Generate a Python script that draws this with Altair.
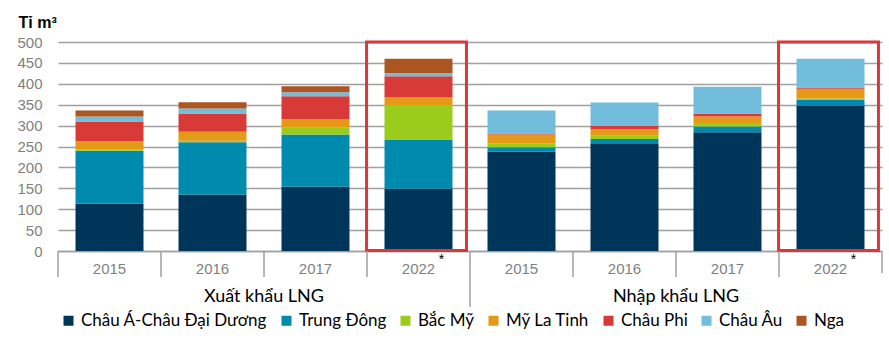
import altair as alt
import pandas as pd

groups = ["Xuất khẩu LNG", "Nhập khẩu LNG"]
years = ["2015", "2016", "2017", "2022"]
regions = ["Châu Á-Châu Đại Dương", "Trung Đông", "Bắc Mỹ", "Mỹ La Tinh",
           "Châu Phi", "Châu Âu", "Nga"]
colors = ["#00355A", "#008AAE", "#9BCB1B", "#E59A17", "#D73A37", "#71BDDB", "#AB5520"]

# values per region, over years 2015, 2016, 2017, 2022
export_vals = {
    "Châu Á-Châu Đại Dương": [113, 135, 154, 149],
    "Trung Đông": [127, 125, 125, 118],
    "Bắc Mỹ": [2, 4, 17, 82],
    "Mỹ La Tinh": [21, 21, 20, 18],
    "Châu Phi": [47, 44, 54, 51],
    "Châu Âu": [12, 12, 10, 7],
    "Nga": [14, 15, 14, 35],
}
import_vals = {
    "Châu Á-Châu Đại Dương": [238, 256, 284, 347],
    "Trung Đông": [10, 12, 14, 14],
    "Bắc Mỹ": [10, 8, 8, 4],
    "Mỹ La Tinh": [21, 16, 16, 23],
    "Châu Phi": [2, 8, 7, 3],
    "Châu Âu": [55, 55, 64, 69],
    "Nga": [0, 0, 0, 0],
}

cats = [f"{g}|{y}" for g in groups for y in years]

rows = []
for g, vals in zip(groups, [export_vals, import_vals]):
    for i, y in enumerate(years):
        for k, r in enumerate(regions):
            rows.append({"cat": f"{g}|{y}", "region": r, "value": vals[r][i], "ord": k})
df = pd.DataFrame(rows)

W, H = 824, 209
FONT = "Liberation Sans"
LFONT = "Lato"
GRAY = "#A0A0A0"

xscale = alt.Scale(domain=cats, paddingInner=0, paddingOuter=0)
yscale = alt.Scale(domain=[0, 500], nice=False)

xaxis = alt.Axis(title=None, labelExpr="split(datum.value,'|')[1]",
                 ticks=False, labelAngle=0, labelPadding=10,
                 labelFont=FONT, labelFontSize=15, labelColor="#7F7F7F",
                 domainColor=GRAY, domainWidth=1.5, grid=False)
yaxis = alt.Axis(values=list(range(0, 501, 50)), title="Tỉ m³",
                 titleAngle=0, titleX=-40, titleY=-15, titleAlign="left",
                 titleBaseline="alphabetic", titleFont=FONT,
                 titleFontSize=16, titleFontWeight="bold", titleColor="black",
                 labelFont=FONT, labelFontSize=15, labelColor="#7F7F7F",
                 labelOverlap=False, labelPadding=16, ticks=False, domain=False,
                 grid=True, gridColor=GRAY, gridWidth=1.5)

bars = alt.Chart(df).mark_bar(width=alt.RelativeBandSize(0.66)).encode(
    x=alt.X("cat:N", scale=xscale, sort=cats, axis=xaxis),
    y=alt.Y("value:Q", stack="zero", scale=yscale, axis=yaxis),
    color=alt.Color("region:N", scale=alt.Scale(domain=regions, range=colors),
                    legend=alt.Legend(title=None, orient="none", direction="horizontal",
                                      legendX=2, legendY=270, symbolType="square",
                                      symbolSize=100, symbolStrokeWidth=0,
                                      labelFont=LFONT, labelFontSize=17, labelLimit=300,
                                      labelColor="black", columnPadding=10,
                                      labelOffset=4)),
    order=alt.Order("ord:Q", sort="ascending"),
)

xa = dict(scale=xscale, sort=cats, axis=xaxis)

tick_df = pd.DataFrame({"cat": [c for c in cats if c != "Nhập khẩu LNG|2015"]})
ticks = alt.Chart(tick_df).mark_rule(color=GRAY, strokeWidth=1.5).encode(
    x=alt.X("cat:N", bandPosition=0, **xa),
    y=alt.value(H), y2=alt.value(H + 26))

sep_df = pd.DataFrame({"cat": ["Nhập khẩu LNG|2015"]})
sep = alt.Chart(sep_df).mark_rule(color=GRAY, strokeWidth=1.5).encode(
    x=alt.X("cat:N", bandPosition=0, **xa),
    y=alt.value(H), y2=alt.value(H + 56))

end_df = pd.DataFrame({"cat": [cats[-1]]})
endtick = alt.Chart(end_df).mark_rule(color=GRAY, strokeWidth=1.5).encode(
    x=alt.X("cat:N", bandPosition=1, **xa),
    y=alt.value(H), y2=alt.value(H + 22))

box_df = pd.DataFrame({"cat": [f"{g}|2022" for g in groups], "top": [500, 500], "bot": [1, 1]})
boxes = alt.Chart(box_df).mark_rect(fill=None, stroke="#D9393A", strokeWidth=3,
                                     width=alt.RelativeBandSize(0.97), xOffset=-2).encode(
    x=alt.X("cat:N", **xa),
    y=alt.Y("top:Q", scale=yscale, axis=yaxis), y2="bot:Q")

star = alt.Chart(box_df).mark_text(text="*", font=FONT, fontSize=14, color="black",
                                   dx=23).encode(
    x=alt.X("cat:N", **xa),
    y=alt.value(H + 9))

glab_df = pd.DataFrame({"cat": [f"{g}|2017" for g in groups], "label": groups})
glabels = alt.Chart(glab_df).mark_text(font=LFONT, fontSize=18, color="black",
                                       baseline="middle").encode(
    x=alt.X("cat:N", bandPosition=0, **xa),
    y=alt.value(H + 46),
    text="label:N")

chart = alt.layer(bars, boxes, ticks, sep, endtick, star, glabels).properties(
    width=W, height=H, autosize="none",
    padding={"left": 58, "top": 42, "right": 7, "bottom": 99},
).configure_view(stroke=None)

chart.save("out.html", embed_options={"renderer": "svg", "actions": False})
